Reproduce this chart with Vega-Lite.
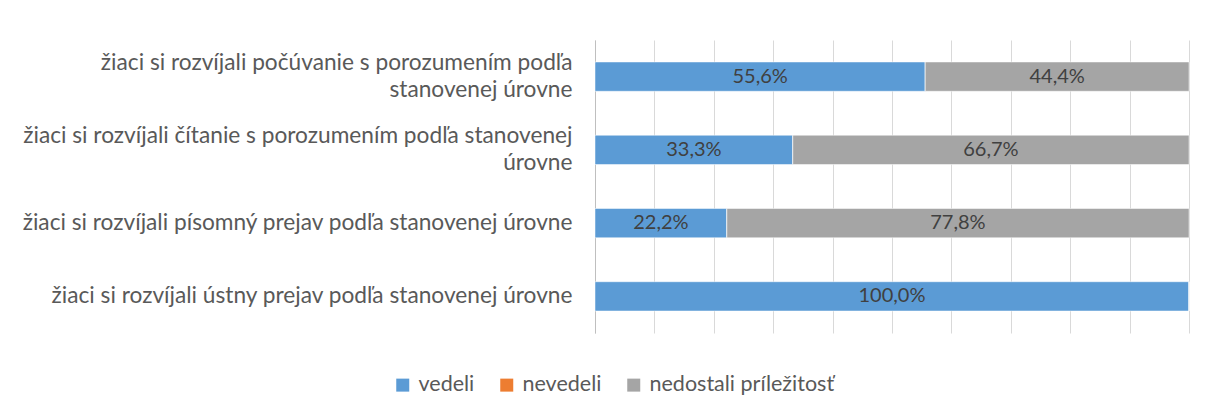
{
  "$schema": "https://vega.github.io/schema/vega-lite/v6.json",
  "width": 594,
  "height": 293,
  "autosize": {"type": "none"},
  "padding": {"left": 595, "top": 40, "right": 19, "bottom": 83},
  "background": "white",
  "config": {
    "locale": {"number": {"decimal": ",", "thousands": " ", "grouping": [3], "currency": ["", " €"]}},
    "view": {"stroke": null},
    "font": "Lato"
  },
  "data": {
    "values": [
      {"cat": "žiaci si rozvíjali počúvanie s porozumením podľa\nstanovenej úrovne", "series": "vedeli", "k": 1, "value": 0.556},
      {"cat": "žiaci si rozvíjali počúvanie s porozumením podľa\nstanovenej úrovne", "series": "nevedeli", "k": 2, "value": 0},
      {"cat": "žiaci si rozvíjali počúvanie s porozumením podľa\nstanovenej úrovne", "series": "nedostali príležitosť", "k": 3, "value": 0.444},
      {"cat": "žiaci si rozvíjali čítanie s porozumením podľa stanovenej\núrovne", "series": "vedeli", "k": 1, "value": 0.333},
      {"cat": "žiaci si rozvíjali čítanie s porozumením podľa stanovenej\núrovne", "series": "nevedeli", "k": 2, "value": 0},
      {"cat": "žiaci si rozvíjali čítanie s porozumením podľa stanovenej\núrovne", "series": "nedostali príležitosť", "k": 3, "value": 0.667},
      {"cat": "žiaci si rozvíjali písomný prejav podľa stanovenej úrovne", "series": "vedeli", "k": 1, "value": 0.222},
      {"cat": "žiaci si rozvíjali písomný prejav podľa stanovenej úrovne", "series": "nevedeli", "k": 2, "value": 0},
      {"cat": "žiaci si rozvíjali písomný prejav podľa stanovenej úrovne", "series": "nedostali príležitosť", "k": 3, "value": 0.778},
      {"cat": "žiaci si rozvíjali ústny prejav podľa stanovenej úrovne", "series": "vedeli", "k": 1, "value": 1.0},
      {"cat": "žiaci si rozvíjali ústny prejav podľa stanovenej úrovne", "series": "nevedeli", "k": 2, "value": 0},
      {"cat": "žiaci si rozvíjali ústny prejav podľa stanovenej úrovne", "series": "nedostali príležitosť", "k": 3, "value": 0}
    ]
  },
  "encoding": {
    "y": {
      "field": "cat",
      "type": "nominal",
      "sort": null,
      "scale": {"paddingInner": 0.6, "paddingOuter": 0.3},
      "axis": {
        "title": null,
        "labelExpr": "split(datum.label, '\\n')",
        "labelLimit": 800,
        "labelFontSize": 22.7,
        "labelColor": "#595959",
        "labelLineHeight": 27,
        "labelPadding": 23,
        "labelOffset": {"condition": {"test": "indexof(datum.value, '\\n') >= 0", "value": -13.5}, "value": 0},
        "ticks": false,
        "domainColor": "#BFBFBF",
        "domainWidth": 1
      }
    }
  },
  "layer": [
    {
      "mark": {"type": "bar", "stroke": "white", "strokeWidth": 0.5},
      "encoding": {
        "x": {
          "field": "value",
          "type": "quantitative",
          "stack": "zero",
          "scale": {"domain": [0, 1], "nice": false},
          "axis": {
            "title": null,
            "grid": true,
            "gridColor": "#D9D9D9",
            "labels": false,
            "ticks": false,
            "domain": false,
            "values": [0, 0.1, 0.2, 0.3, 0.4, 0.5, 0.6, 0.7, 0.8, 0.9, 1]
          }
        },
        "color": {
          "field": "series",
          "type": "nominal",
          "scale": {
            "domain": ["vedeli", "nevedeli", "nedostali príležitosť"],
            "range": ["#5B9BD5", "#ED7D31", "#A5A5A5"]
          },
          "legend": {
            "orient": "none",
            "legendX": -203,
            "legendY": 334,
            "direction": "horizontal",
            "title": null,
            "symbolType": "square",
            "symbolSize": 169,
            "symbolStrokeWidth": 0,
            "labelFontSize": 21.5,
            "labelColor": "#595959",
            "labelLimit": 400,
            "columnPadding": 21,
            "labelOffset": 5
          }
        },
        "order": {"field": "k", "type": "quantitative"}
      }
    },
    {
      "transform": [{"filter": "datum.value > 0"}],
      "mark": {"type": "text", "fontSize": 20, "color": "#404040"},
      "encoding": {
        "x": {"field": "value", "type": "quantitative", "stack": "zero", "bandPosition": 0.5},
        "detail": {"field": "series", "type": "nominal"},
        "order": {"field": "k", "type": "quantitative"},
        "text": {"field": "value", "type": "quantitative", "format": ".1%"}
      }
    }
  ]
}
